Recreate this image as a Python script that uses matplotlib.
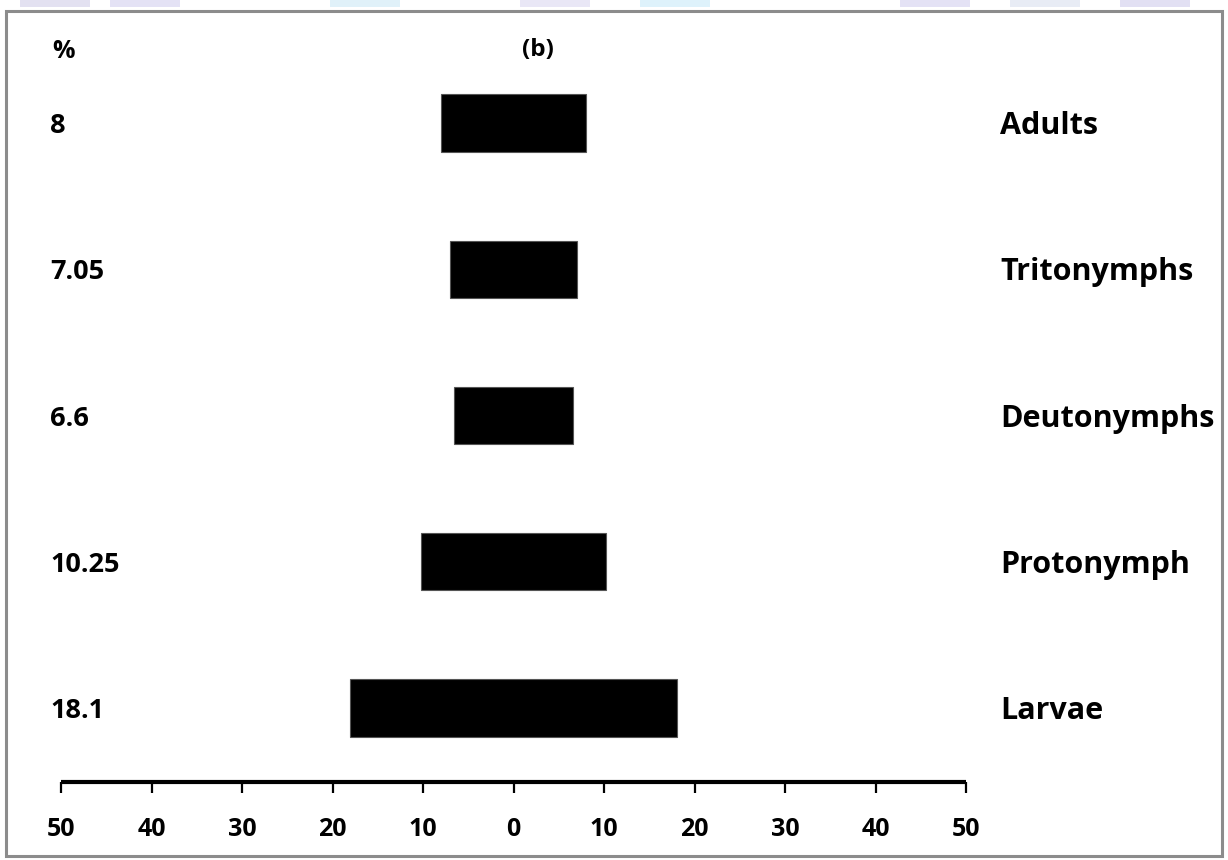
import matplotlib
matplotlib.use("Agg")
import matplotlib.pyplot as plt
from matplotlib.patches import Rectangle
import numpy as np

# Developmental stages (bottom to top) and their percentage values
stages = ["Larvae", "Protonymph", "Deutonymphs", "Tritonymphs", "Adults"]
values = [18.1, 10.25, 6.6, 7.05, 8]
value_labels = ["18.1", "10.25", "6.6", "7.05", "8"]
tick_values = [-50, -40, -30, -20, -10, 0, 10, 20, 30, 40, 50]
tick_labels = ["50", "40", "30", "20", "10", "0", "10", "20", "30", "40", "50"]

plt.rcParams["font.family"] = ["Open Sans", "DejaVu Sans"]

W, H = 1228, 860
fig = plt.figure(figsize=(W / 100, H / 100), dpi=100)
fig.patch.set_facecolor("white")

# faint banner strip along the top edge
banner_colors = ["#e3e1f1", "#e4e2f5", "#e0f1f9", "#e9e7f6", "#def2fb", "#e4e2f5",
                 "#e8ecf5", "#e2e0f3", "#e0f1f9", "#e4e2f5"]
banner_x = [20, 110, 330, 520, 640, 900, 1010, 1120, 1230, 1350]
for bx, bc in zip(banner_x, banner_colors):
    if bx < W:
        fig.add_artist(Rectangle((bx / W, 1 - 7 / H), 70 / W, 7 / H,
                                 transform=fig.transFigure, color=bc, lw=0))

# grey frame around the chart area
fig.add_artist(Rectangle((6 / W, 4 / H), (1222 - 6) / W, (H - 11 - 4) / H,
                         transform=fig.transFigure, fill=False,
                         edgecolor="#8c8c8c", lw=2.2))

# axes placement: x from -50 (px 61) to 50 (px 966), axis line at px 782
x0, x1 = 61, 966
y_axis_px = 782
y_top_px = 40
step_px = 146.25
y_first_px = 708
ylo = -(y_axis_px - y_first_px) / step_px
yhi = (len(stages) - 1) + (y_first_px - (len(stages) - 1) * step_px - y_top_px) / step_px

ax = fig.add_axes([x0 / W, 1 - y_axis_px / H, (x1 - x0) / W, (y_axis_px - y_top_px) / H])
ax.set_xlim(-50, 50)
ax.set_ylim(ylo, yhi)

ypos = np.arange(len(stages))
ax.barh(ypos, [2 * v for v in values], left=[-v for v in values], height=0.39,
        color="black", edgecolor="#555555", linewidth=0.8)

for s in ["top", "left", "right"]:
    ax.spines[s].set_visible(False)
ax.spines["bottom"].set_linewidth(3.0)
ax.spines["bottom"].set_color("black")
ax.spines["bottom"].set_capstyle("butt")

ax.set_yticks([])
ax.set_xticks(tick_values)
ax.set_xticklabels(tick_labels, fontsize=18, fontweight="bold")
ax.tick_params(axis="x", direction="out", length=8, width=1.6, pad=17, colors="black")
ax.patch.set_alpha(0)

# value labels on the left, stage names on the right
to_fig_y = lambda py: 1 - py / H
for i, (lab, st) in enumerate(zip(value_labels, stages)):
    py = y_first_px - i * step_px + 3
    fig.text(50 / W, to_fig_y(py), lab, fontsize=19.5, fontweight="bold",
             ha="left", va="center")
    fig.text(1000 / W, to_fig_y(py), st, fontsize=22, fontweight="bold",
             ha="left", va="center")

fig.text(52 / W, to_fig_y(52), "%", fontsize=18, fontweight="bold", ha="left", va="center")
fig.text(538 / W, to_fig_y(50), "(b)", fontsize=17.5, fontweight="bold", ha="center", va="center")

fig.savefig("out.png", dpi=100, facecolor="white")
